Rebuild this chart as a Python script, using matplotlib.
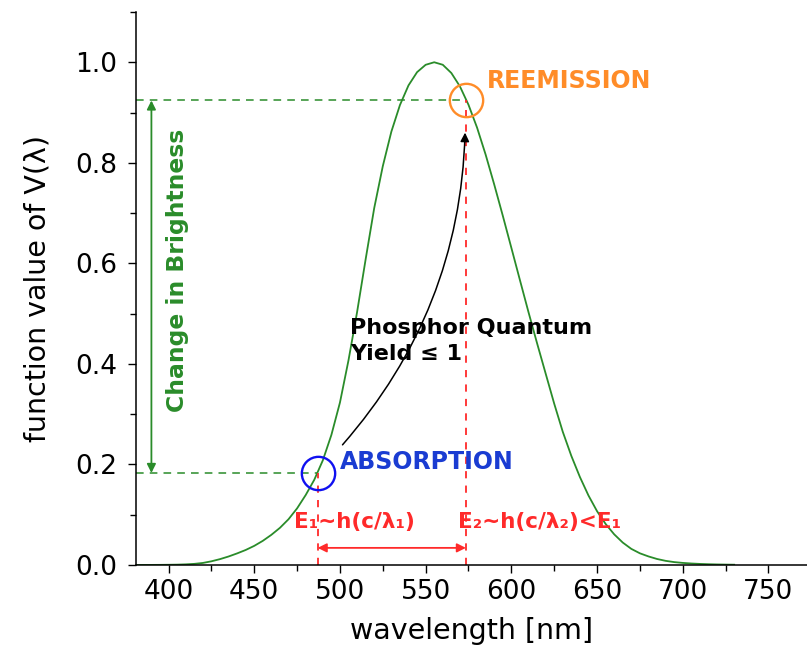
import matplotlib.pyplot as plt
from matplotlib.ticker import MultipleLocator

plt.rcParams['font.family'] = ['DejaVu Sans']

# CIE photopic luminosity function V(lambda), 5 nm steps
wavelength = [380, 385, 390, 395, 400, 405, 410, 415, 420, 425, 430, 435, 440, 445,
              450, 455, 460, 465, 470, 475, 480, 485, 490, 495, 500, 505, 510, 515,
              520, 525, 530, 535, 540, 545, 550, 555, 560, 565, 570, 575, 580, 585,
              590, 595, 600, 605, 610, 615, 620, 625, 630, 635, 640, 645, 650, 655,
              660, 665, 670, 675, 680, 685, 690, 695, 700, 705, 710, 715, 720, 725, 730]
v_lambda = [0.000039, 0.000064, 0.00012, 0.000217, 0.000396, 0.00064, 0.00121, 0.00218,
            0.004, 0.0073, 0.0116, 0.01684, 0.023, 0.0298, 0.038, 0.048, 0.06, 0.0739,
            0.09098, 0.1126, 0.13902, 0.1693, 0.20802, 0.2586, 0.323, 0.4073, 0.503,
            0.6082, 0.71, 0.7932, 0.862, 0.91485, 0.954, 0.9803, 0.99495, 1.0, 0.995,
            0.9786, 0.952, 0.9154, 0.87, 0.8163, 0.757, 0.6949, 0.631, 0.5668, 0.503,
            0.4412, 0.381, 0.321, 0.265, 0.217, 0.175, 0.1382, 0.107, 0.0816, 0.061,
            0.04458, 0.032, 0.0232, 0.017, 0.01192, 0.00821, 0.005723, 0.004102,
            0.002929, 0.002091, 0.001484, 0.001047, 0.00074, 0.00052]

# absorption / reemission points
lam_abs, v_abs = 487, 0.183
lam_em, v_em = 573.5, 0.924

green = '#2a8c2a'
red = '#ff2a2a'
orange = '#ff8c28'
blue = '#1a3cd2'

fig = plt.figure(figsize=(8.07, 6.66), dpi=100)
ax = fig.add_axes([0.1685, 0.1517, 0.8315, 0.8303])

ax.plot(wavelength, v_lambda, color=green, lw=1.3)

xmin = 381
ax.set_xlim(xmin, 772.5)
ax.set_ylim(0, 1.1)

# guide lines
ax.plot([xmin, lam_abs], [v_abs, v_abs], color=green, ls=(0, (5, 4)), lw=1.1)
ax.plot([xmin, lam_em], [v_em, v_em], color=green, ls=(0, (5, 4)), lw=1.1)
ax.plot([lam_abs, lam_abs], [0, v_abs], color=red, ls=(0, (4, 4)), lw=1.3)
ax.plot([lam_em, lam_em], [0, v_em], color=red, ls=(0, (4, 4)), lw=1.3)

# circles
ax.plot(lam_abs, v_abs, 'o', ms=24, mfc='none', mec='#1010f0', mew=1.7)
ax.plot(lam_em, v_em, 'o', ms=24, mfc='none', mec=orange, mew=1.7)

# change in brightness arrow
ax.annotate('', xy=(390, v_em), xytext=(390, v_abs),
            arrowprops=dict(arrowstyle='<|-|>', color=green, lw=1.3,
                            mutation_scale=13, shrinkA=0, shrinkB=0))
ax.text(405, 0.586, 'Change in Brightness', rotation=90,
        color=green, fontsize=16.9, fontweight='bold', ha='center', va='center')

# energy arrow
ax.annotate('', xy=(lam_em, 0.034), xytext=(lam_abs, 0.034),
            arrowprops=dict(arrowstyle='<|-|>', color=red, lw=1.3,
                            mutation_scale=13, shrinkA=0, shrinkB=0))

# quantum yield arrow
ax.annotate('', xy=(573, 0.86), xytext=(501.5, 0.239),
            arrowprops=dict(arrowstyle='-|>', color='black', lw=1.1,
                            mutation_scale=13, shrinkA=0, shrinkB=0,
                            connectionstyle='arc3,rad=0.18'))

ax.text(586, 0.962, 'REEMISSION', color=orange, fontsize=17,
        fontweight='bold', va='center')
ax.text(500, 0.205, 'ABSORPTION', color=blue, fontsize=17,
        fontweight='bold', va='center')
ax.text(506, 0.446, 'Phosphor Quantum\nYield \u2264 1', color='black',
        fontsize=16, fontweight='bold', va='center', linespacing=1.35)
ax.text(473, 0.086, 'E\u2081~h(c/\u03bb\u2081)', color=red, fontsize=15.5,
        fontweight='bold', va='center')
ax.text(569, 0.086, 'E\u2082~h(c/\u03bb\u2082)<E\u2081', color=red, fontsize=15.5,
        fontweight='bold', va='center')

# axes styling
for s in ['top', 'right']:
    ax.spines[s].set_visible(False)
ax.spines['left'].set_linewidth(1.1)
ax.spines['bottom'].set_linewidth(1.1)
ax.xaxis.set_major_locator(MultipleLocator(50))
ax.xaxis.set_minor_locator(MultipleLocator(25))
ax.yaxis.set_minor_locator(MultipleLocator(0.1))
ax.set_yticks([0, 0.2, 0.4, 0.6, 0.8, 1.0])
ax.set_yticklabels(['0.0', '0.2', '0.4', '0.6', '0.8', '1.0'])
ax.tick_params(which='major', length=6, width=1, labelsize=19, pad=4,
               direction='out')
ax.tick_params(axis='y', which='major', pad=7.5)
ax.tick_params(which='minor', length=4, width=1, direction='out')
ax.set_xlabel('wavelength [nm]', fontsize=20.5, labelpad=9)
ax.set_ylabel('function value of V(\u03bb)', fontsize=20.5, labelpad=17)

fig.savefig('out.png', dpi=100)
